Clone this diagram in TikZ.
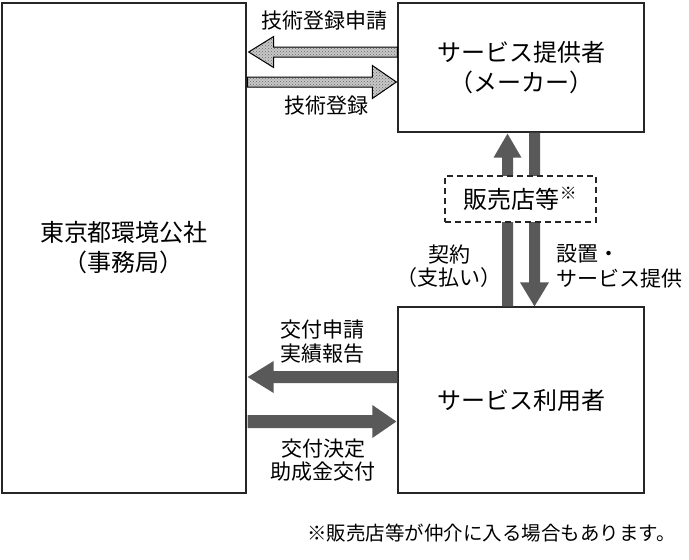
\documentclass[tikz,border=0pt]{standalone}
\usepackage{fontspec}
\setmainfont{Noto Sans CJK JP}
\usetikzlibrary{calc,patterns}
\definecolor{darkarrow}{HTML}{595959}
\definecolor{hatchfill}{HTML}{C8C8C8}
\tikzset{
  box/.style={draw=black!85, line width=1.3pt, fill=white, align=center,
    font=\fontsize{24pt}{30pt}\selectfont, inner sep=0pt},
  dashbox/.style={draw=black!85, line width=1.3pt, fill=white, dash pattern=on 6pt off 4pt,
    font=\fontsize{24pt}{30pt}\selectfont, inner sep=0pt},
  lbl/.style={align=center, font=\fontsize{21pt}{23.5pt}\selectfont, inner sep=0pt},
  lblleft/.style={align=left, font=\fontsize{21pt}{25pt}\selectfont, inner sep=0pt},
  hatcharrow/.style={preaction={fill=hatchfill}, pattern=crosshatch dots, pattern color=black!60,
    draw=black, line width=1pt, line join=miter},
  darkarr/.style={fill=darkarrow, draw=none},
}
\newcommand\blockarr[6]{%
  \coordinate (ba-h) at ($(#3)!#6!(#2)$);
  \path[#1] ($(#2)!#4!90:(#3)$) -- ($(ba-h)!#4!-90:(#2)$) -- ($(ba-h)!#5!-90:(#2)$)
    -- (#3) -- ($(ba-h)!#5!90:(#2)$) -- ($(ba-h)!#4!90:(#2)$) -- ($(#2)!#4!-90:(#3)$) -- cycle;}
\begin{document}
\begin{tikzpicture}[x=1pt,y=-1pt]
\useasboundingbox (0,0) rectangle (689,560);
% boxes
\node[box, minimum width=244pt, minimum height=490pt] (L) at (124,248) {東京都環境公社\\（事務局）};
\node[box, minimum width=246pt, minimum height=129pt] (R1) at (521,67.5) {サービス提供者\\（メーカー）};
\node[box, minimum width=246pt, minimum height=186pt] (R2) at (521,400) {サービス利用者};
% vertical arrows (behind dashed box)
\coordinate (a3s) at ($(R2.north)+(-13.5,0)$);
\coordinate (a3e) at ($(R1.south)+(-13.5,1)$);
\coordinate (a4s) at ($(R1.south)+(13.5,0)$);
\coordinate (a4e) at ($(R2.north)+(13.5,0)$);
\blockarr{darkarr}{a3s}{a3e}{5.5pt}{14pt}{24pt}
\blockarr{darkarr}{a4s}{a4e}{5.5pt}{14.5pt}{24pt}
\node[dashbox, minimum width=151pt, minimum height=46pt] (D) at (520.5,199) {販売店等\textsuperscript{※}};
% top hatched arrows
\coordinate (a1s) at ($(R1.west)+(0,-15.5)$);
\coordinate (a1e) at ($(L.east|-a1s)+(2,0)$);
\coordinate (a2s) at ($(L.east|-R1.west)+(1,14.5)$);
\coordinate (a2e) at ($(R1.west)+(-1,14.5)$);
\blockarr{hatcharrow}{a1s}{a1e}{5pt}{15.5pt}{25pt}
\blockarr{hatcharrow}{a2s}{a2e}{5pt}{16.5pt}{24pt}
% bottom dark arrows
\coordinate (a5s) at ($(R2.west)+(0,-23)$);
\coordinate (a5e) at ($(L.east|-a5s)+(1,0)$);
\coordinate (a6s) at ($(L.east|-R2.west)+(1,21.5)$);
\coordinate (a6e) at ($(R2.west)+(-1,21.5)$);
\blockarr{darkarr}{a5s}{a5e}{6pt}{16pt}{26pt}
\blockarr{darkarr}{a6s}{a6e}{6.5pt}{16.5pt}{24pt}
% labels
\node[lbl] (t1) at (324,21) {技術登録申請};
\node[lbl] (t2) at (326,106) {技術登録};
\node[lbl] (t3) at (449,266) {契約\\（支払い）};
\node[lblleft, anchor=west] (t4) at (556,266) {設置・\\サービス提供};
\node[lbl] (t5) at (322,341.5) {交付申請\\実績報告};
\node[lbl] (t6) at (323,460) {交付決定\\助成金交付};
\node[font=\fontsize{19.5pt}{22pt}\selectfont, inner sep=0pt, anchor=east] (fn) at (676,533) {※販売店等が仲介に入る場合もあります。};
\end{tikzpicture}
\end{document}
